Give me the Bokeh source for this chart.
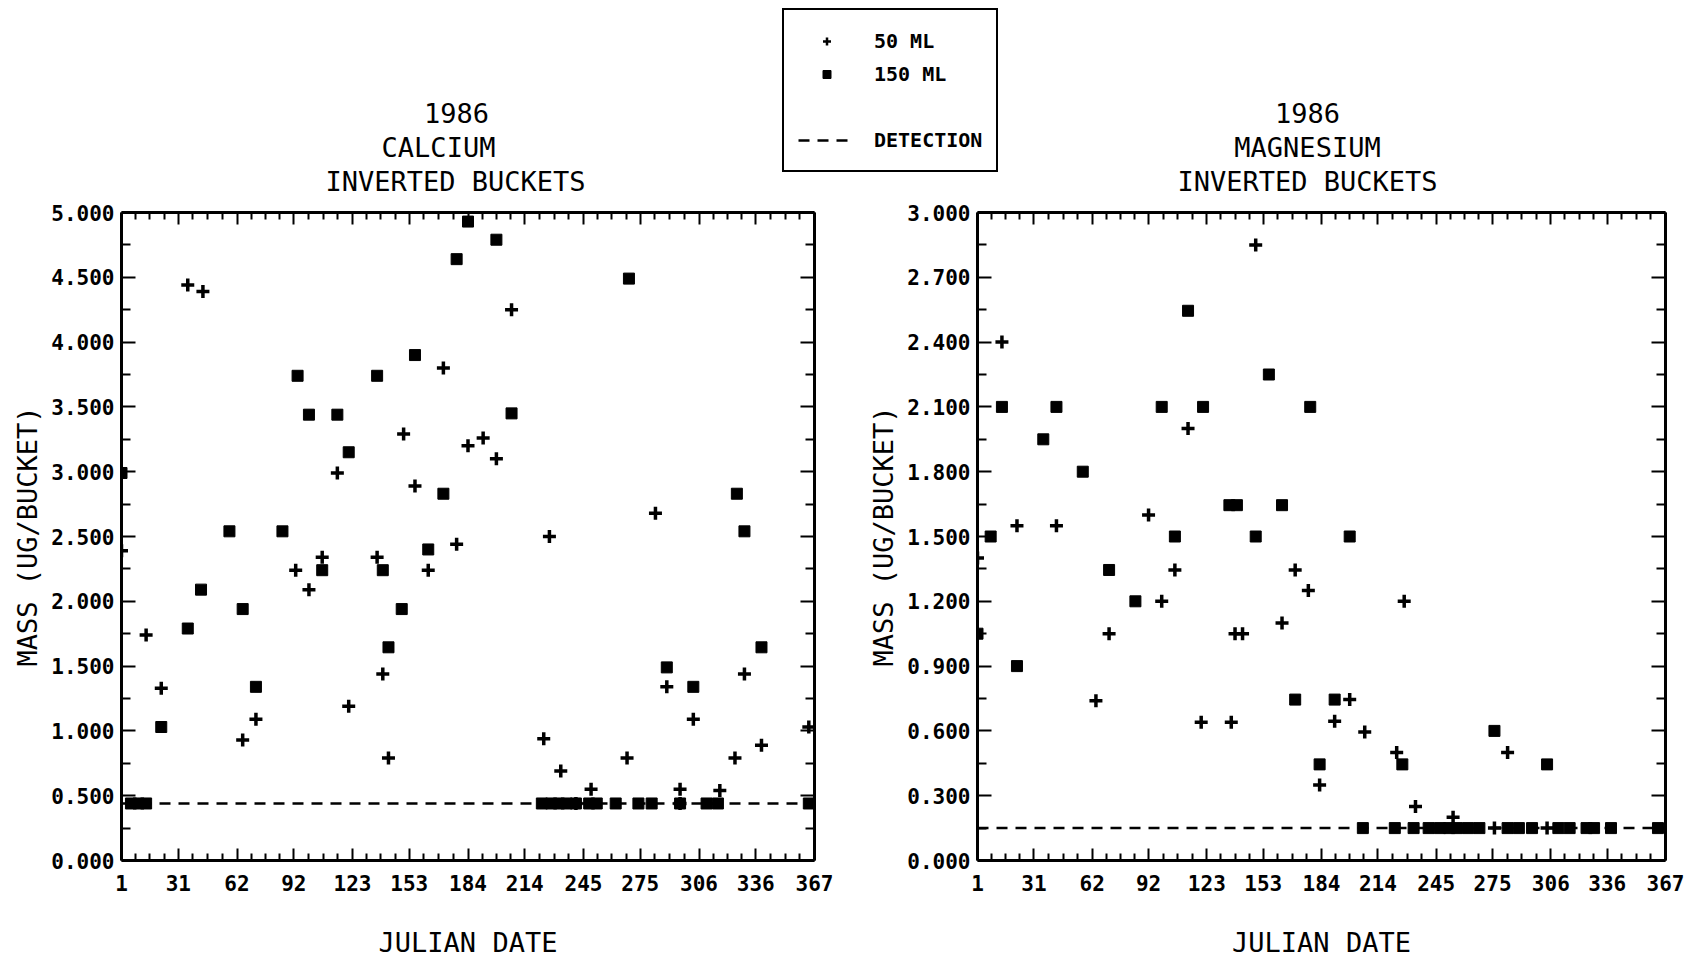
from bokeh.plotting import figure
from bokeh.layouts import column, row
from bokeh.models import (Range1d, LinearAxis, FixedTicker, NumeralTickFormatter,
                          Span, Label, Legend, LegendItem, CustomLabelingPolicy)
from bokeh.embed import file_html
from bokeh.resources import INLINE

# ---------------- data ----------------
X_TICKS = [1, 31, 62, 92, 123, 153, 184, 214, 245, 275, 306, 336, 367]
CA_Y_TICKS = [0.0, 0.5, 1.0, 1.5, 2.0, 2.5, 3.0, 3.5, 4.0, 4.5, 5.0]
MG_Y_TICKS = [0.0, 0.3, 0.6, 0.9, 1.2, 1.5, 1.8, 2.1, 2.4, 2.7, 3.0]

CA_DETECTION = 0.44
MG_DETECTION = 0.15

# Calcium, 50 ML buckets (+)
CA50_DAY = [1, 14, 22, 36, 44, 65, 72, 93, 100, 107, 115, 121, 136, 139, 142, 150,
            156, 163, 171, 178, 184, 192, 199, 207, 224, 227, 233, 241, 249, 268,
            283, 289, 296, 296, 303, 317, 325, 330, 339, 364]
CA50_VAL = [2.39, 1.74, 1.33, 4.44, 4.39, 0.93, 1.09, 2.24, 2.09, 2.34, 2.99, 1.19,
            2.34, 1.44, 0.79, 3.29, 2.89, 2.24, 3.80, 2.44, 3.20, 3.26, 3.10, 4.25,
            0.94, 2.50, 0.69, 0.44, 0.55, 0.79, 2.68, 1.34, 0.55, 0.44, 1.09, 0.54,
            0.79, 1.44, 0.89, 1.03]

# Calcium, 150 ML buckets (square)
CA150_DAY = [1, 6, 10, 14, 22, 36, 43, 58, 65, 72, 86, 94, 100, 107, 115, 121, 136,
             139, 142, 149, 156, 163, 171, 178, 184, 199, 207, 223, 228, 232, 236,
             241, 248, 252, 262, 269, 274, 281, 289, 296, 303, 310, 316, 326, 330,
             339, 364]
CA150_VAL = [2.99, 0.44, 0.44, 0.44, 1.03, 1.79, 2.09, 2.54, 1.94, 1.34, 2.54, 3.74,
             3.44, 2.24, 3.44, 3.15, 3.74, 2.24, 1.645, 1.94, 3.90, 2.40, 2.83, 4.64,
             4.93, 4.79, 3.45, 0.44, 0.44, 0.44, 0.44, 0.44, 0.44, 0.44, 0.44, 4.49,
             0.44, 0.44, 1.49, 0.44, 1.34, 0.44, 0.44, 2.83, 2.54, 1.645, 0.44]

# Magnesium, 50 ML buckets (+)
MG50_DAY = [1, 14, 22, 43, 64, 71, 92, 99, 106, 113, 120, 136, 138, 142, 149, 163,
            170, 177, 183, 191, 199, 207, 224, 228, 234, 254, 276, 283, 304]
MG50_VAL = [1.40, 2.40, 1.55, 1.55, 0.74, 1.05, 1.60, 1.20, 1.345, 2.00, 0.64, 0.64,
            1.05, 1.05, 2.85, 1.10, 1.345, 1.25, 0.35, 0.645, 0.745, 0.595, 0.50,
            1.20, 0.25, 0.20, 0.15, 0.50, 0.15]

# Magnesium, 150 ML buckets (square)
MG150_DAY = [1, 8, 14, 22, 36, 43, 57, 71, 85, 99, 106, 113, 121, 135, 139, 149, 156,
             163, 170, 178, 183, 191, 199, 206, 223, 227, 233, 241, 247, 252, 256,
             262, 268, 276, 283, 289, 296, 304, 310, 316, 325, 329, 338, 363]
MG150_VAL = [1.05, 1.50, 2.10, 0.90, 1.95, 2.10, 1.80, 1.345, 1.20, 2.10, 1.50, 2.545,
             2.10, 1.645, 1.645, 1.50, 2.25, 1.645, 0.745, 2.10, 0.445, 0.745, 1.50,
             0.15, 0.15, 0.445, 0.15, 0.15, 0.15, 0.15, 0.15, 0.15, 0.15, 0.60, 0.15,
             0.15, 0.15, 0.445, 0.15, 0.15, 0.15, 0.15, 0.15, 0.15]

TITLE_L = ["1986", "CALCIUM", "INVERTED BUCKETS"]
TITLE_R = ["1986", "MAGNESIUM", "INVERTED BUCKETS"]
X_LABEL = "JULIAN DATE"
Y_LABEL = "MASS (UG/BUCKET)"
LEGEND_LABELS = ["50 ML", "150 ML", "DETECTION"]

MONO = "DejaVu Sans Mono"

NO_LABELS = CustomLabelingPolicy(code="""
for (const i of indices)
  indices.unset(i)
""")


def minors(ticks, n):
    out = []
    for a, b in zip(ticks[:-1], ticks[1:]):
        out += [a + (b - a) * k / n for k in range(1, n)]
    return out


def style_axis(ax, labelled, horizontal):
    ax.axis_line_width = 3
    ax.axis_line_color = "black"
    ax.major_tick_line_width = 2
    ax.minor_tick_line_width = 2
    ax.major_tick_out = 0
    ax.minor_tick_out = 0
    if horizontal:
        ax.major_tick_in = 12
        ax.minor_tick_in = 7
    else:
        ax.major_tick_in = 14
        ax.minor_tick_in = 9
    ax.major_label_text_font = MONO
    ax.major_label_text_font_style = "bold"
    ax.major_label_text_color = "black"
    if labelled:
        ax.major_label_text_font_size = "21px"
    else:
        ax.major_label_policy = NO_LABELS
        ax.major_label_text_font_size = "1px"
        ax.major_label_standoff = 0
    ax.axis_label_text_font = MONO
    ax.axis_label_text_font_style = "normal"
    ax.axis_label_text_font_size = "27px"
    ax.axis_label_text_color = "black"


def make_panel(width, border_left, border_right, y_ticks, det,
               d50, v50, d150, v150):
    p = figure(width=width, height=760,
               x_range=Range1d(X_TICKS[0], X_TICKS[-1]),
               y_range=Range1d(y_ticks[0], y_ticks[-1]),
               x_axis_location=None, y_axis_location=None,
               min_border_left=border_left, min_border_right=border_right,
               min_border_top=12, min_border_bottom=99,
               output_backend="svg", toolbar_location=None)
    p.outline_line_color = None
    p.grid.visible = False
    p.background_fill_color = "white"
    p.border_fill_color = "white"

    xt = FixedTicker(ticks=X_TICKS, minor_ticks=minors(X_TICKS, 4))
    yt = FixedTicker(ticks=y_ticks, minor_ticks=minors(y_ticks, 2))

    bottom = LinearAxis(ticker=xt, axis_label=X_LABEL)
    style_axis(bottom, True, True)
    bottom.major_label_standoff = 14
    bottom.axis_label_standoff = 33
    top = LinearAxis(ticker=xt)
    style_axis(top, False, True)
    left = LinearAxis(ticker=yt, formatter=NumeralTickFormatter(format="0.000"),
                      axis_label=Y_LABEL)
    style_axis(left, True, False)
    left.major_label_standoff = 7
    left.axis_label_standoff = 5
    right = LinearAxis(ticker=yt)
    style_axis(right, False, False)

    p.add_layout(bottom, "below")
    p.add_layout(top, "above")
    p.add_layout(left, "left")
    p.add_layout(right, "right")

    p.scatter(x=d150, y=v150, marker="square", size=11, color="black")
    p.scatter(x=d50, y=v50, marker="cross", size=13, line_width=3.5, color="black")
    p.add_layout(Span(location=det, dimension="width", line_color="black",
                      line_width=2.5, line_dash="11 8"))
    return p


p1 = make_panel(860, 121, 46, CA_Y_TICKS, CA_DETECTION,
                CA50_DAY, CA50_VAL, CA150_DAY, CA150_VAL)
p2 = make_panel(843, 117, 38, MG_Y_TICKS, MG_DETECTION,
                MG50_DAY, MG50_VAL, MG150_DAY, MG150_VAL)

# ---------------- header band: titles and legend ----------------
head = figure(width=1703, height=200, x_range=Range1d(0, 1703), y_range=Range1d(200, 0),
              x_axis_location=None, y_axis_location=None, min_border=0,
              output_backend="svg", toolbar_location=None)
head.outline_line_color = None
head.grid.visible = False

for txt, x, y in zip(TITLE_L, [456, 438, 455], [112, 147, 181]):
    head.add_layout(Label(x=x, y=y, text=txt, text_align="center", text_baseline="middle",
                          text_font=MONO, text_font_size="27px", text_color="black"))
for txt, x, y in zip(TITLE_R, [1307, 1307, 1307], [112, 147, 181]):
    head.add_layout(Label(x=x, y=y, text=txt, text_align="center", text_baseline="middle",
                          text_font=MONO, text_font_size="27px", text_color="black"))

# legend-only renderers (hidden in the header band)
r50 = head.scatter(x=CA50_DAY, y=CA50_VAL, marker="cross", line_width=2.5, color="black",
                   visible=False)
r150 = head.scatter(x=CA150_DAY, y=CA150_VAL, marker="square", color="black",
                    visible=False)
rblank = head.scatter(x=CA150_DAY, y=CA150_VAL, marker="square", alpha=0, visible=False)
rdet = head.line(x=[X_TICKS[0], X_TICKS[-1]], y=[CA_DETECTION, CA_DETECTION],
                 line_color="black", line_width=2.5, line_dash="11 8", visible=False)

legend = Legend(items=[LegendItem(label=LEGEND_LABELS[0], renderers=[r50]),
                       LegendItem(label=LEGEND_LABELS[1], renderers=[r150]),
                       LegendItem(label=" ", renderers=[rblank]),
                       LegendItem(label=LEGEND_LABELS[2], renderers=[rdet])],
                location=(782, 28), orientation="vertical",
                border_line_color="black", border_line_width=2.5, border_line_alpha=1,
                background_fill_color="white", background_fill_alpha=1,
                inactive_fill_alpha=0,
                label_text_font=MONO, label_text_font_style="bold",
                label_text_font_size="20px", label_text_color="black",
                padding=14, spacing=0, margin=0,
                glyph_width=57, glyph_height=20, label_height=33, label_width=108,
                label_standoff=19)
head.add_layout(legend)

layout = column(head, row(p1, p2))
open("out.html", "w").write(file_html(layout, INLINE))
